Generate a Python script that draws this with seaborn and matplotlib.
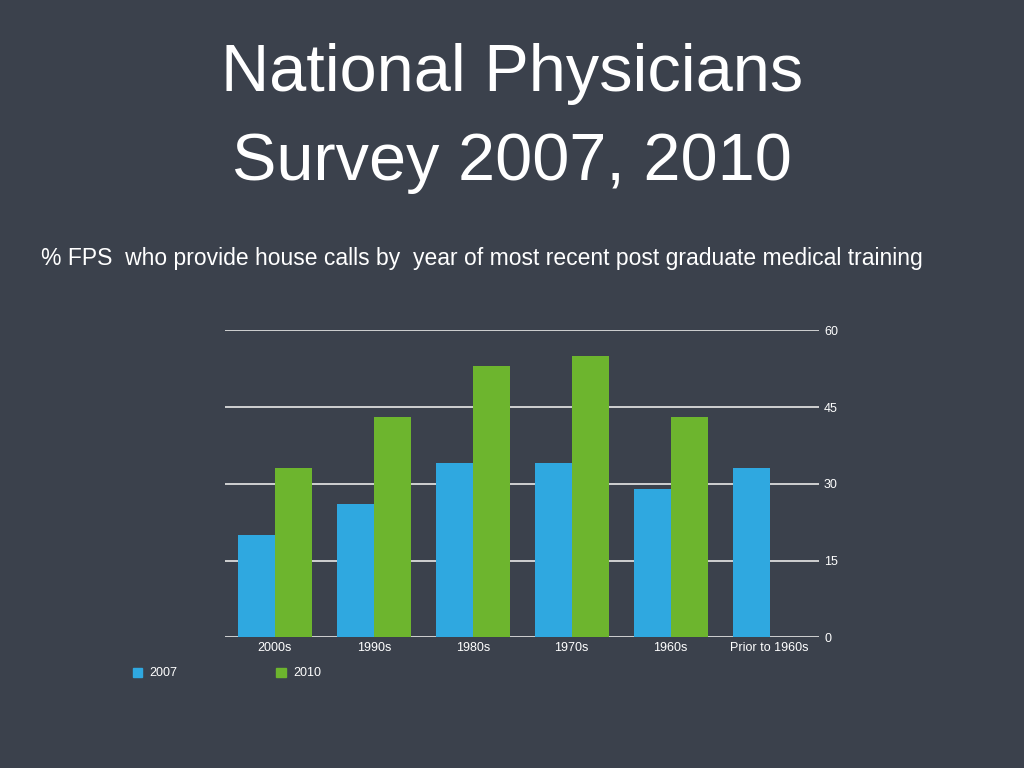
import numpy as np
import pandas as pd
import seaborn as sns
import matplotlib.pyplot as plt

# data
decades = ["2000s", "1990s", "1980s", "1970s", "1960s", "Prior to 1960s"]
pct_2007 = [20, 26, 34, 34, 29, 33]
pct_2010 = [33, 43, 53, 55, 43, np.nan]

df = pd.DataFrame({"decade": decades * 2,
                   "pct": pct_2007 + pct_2010,
                   "year": ["2007"] * 6 + ["2010"] * 6})

bg = "#3b414c"
sns.set_style("dark")
plt.rcParams["font.family"] = ["Liberation Sans", "DejaVu Sans"]

fig = plt.figure(figsize=(10.24, 7.68), dpi=100, facecolor=bg)
fig.text(0.5, 0.903, "National Physicians", color="white", fontsize=48, ha="center", va="center")
fig.text(0.5, 0.788, "Survey 2007, 2010", color="white", fontsize=48, ha="center", va="center")
fig.text(0.04, 0.663, "% FPS  who provide house calls by  year of most recent post graduate medical training",
         color="white", fontsize=16.5, ha="left", va="center")

ax = fig.add_axes([0.22, 0.17, 0.58, 0.40])
ax.set_facecolor(bg)
sns.barplot(data=df, x="decade", y="pct", hue="year", ax=ax,
            palette={"2007": "#2fa8e0", "2010": "#6db52e"}, saturation=1,
            width=0.75, edgecolor="none", legend=False)
ax.set_ylim(0, 60)
ax.set_yticks([0, 15, 30, 45, 60])
ax.yaxis.tick_right()
ax.grid(axis="y", color="#e8e8e8", linewidth=1.2)
ax.set_axisbelow(True)
ax.tick_params(colors="white", labelsize=9, length=0)
for s in ax.spines.values():
    s.set_visible(False)
ax.set_xlabel("")
ax.set_ylabel("")

# legend at bottom left
for x, lab, c in [(0.13, "2007", "#2fa8e0"), (0.27, "2010", "#6db52e")]:
    fig.patches.append(plt.Rectangle((x, 0.118), 0.009, 0.012, color=c, transform=fig.transFigure))
    fig.text(x + 0.016, 0.124, lab, color="white", fontsize=9, va="center")

fig.savefig("out.png", facecolor=bg)
